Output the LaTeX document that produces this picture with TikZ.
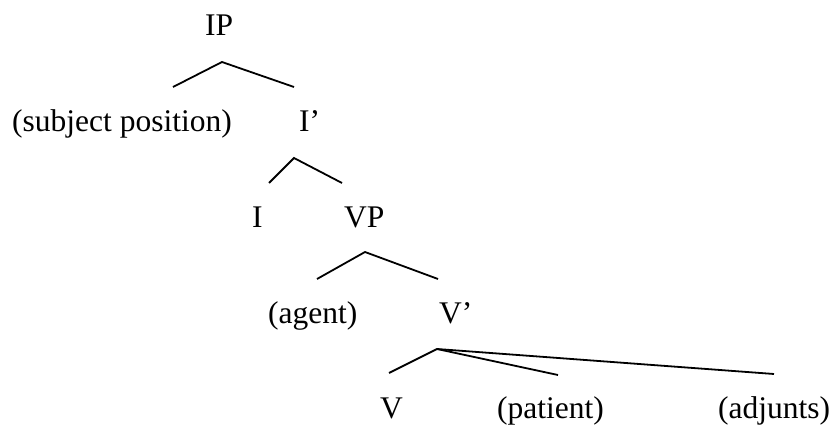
\documentclass[tikz,border=0pt]{standalone}
\usepackage{fontspec}
\setmainfont{Liberation Serif}
\begin{document}
\begin{tikzpicture}[x=1pt,y=-1pt,
  lbl/.style={anchor=base west,inner sep=0pt,font=\fontsize{31.5}{36}\selectfont},
  br/.style={line width=1.8pt}]
\useasboundingbox (0,0) rectangle (836,425);
% labels
\node[lbl] (ip) at (205,36) {IP};
\node[lbl] (subj) at (12,132) {(subject position)};
\node[lbl] (ibar) at (299,132) {I’};
\node[lbl] (i) at (252,228) {I};
\node[lbl] (vp) at (344,228) {VP};
\node[lbl] (agent) at (268,323) {(agent)};
\node[lbl] (vbar) at (439,323) {V’};
\node[lbl] (v) at (380,418) {V};
\node[lbl] (patient) at (497,418) {(patient)};
\node[lbl] (adj) at (718,418) {(adjunts)};
% branch points
\coordinate (a1) at (222,62);
\coordinate (a1l) at (173,87);
\coordinate (a1r) at (294,87);
\coordinate (a2) at (294,158);
\coordinate (a2l) at (269,183);
\coordinate (a2r) at (342,183);
\coordinate (a3) at (365,252);
\coordinate (a3l) at (317,279);
\coordinate (a3r) at (438,279);
\coordinate (a4) at (437,349);
\coordinate (a4l) at (389,373);
\coordinate (a4m) at (558,375);
\coordinate (a4r) at (774,374);
\draw[br] (a1l) -- (a1) -- (a1r);
\draw[br] (a2l) -- (a2) -- (a2r);
\draw[br] (a3l) -- (a3) -- (a3r);
\draw[br] (a4l) -- (a4) -- (a4m);
\draw[br] (a4) -- (a4r);
\end{tikzpicture}
\end{document}
